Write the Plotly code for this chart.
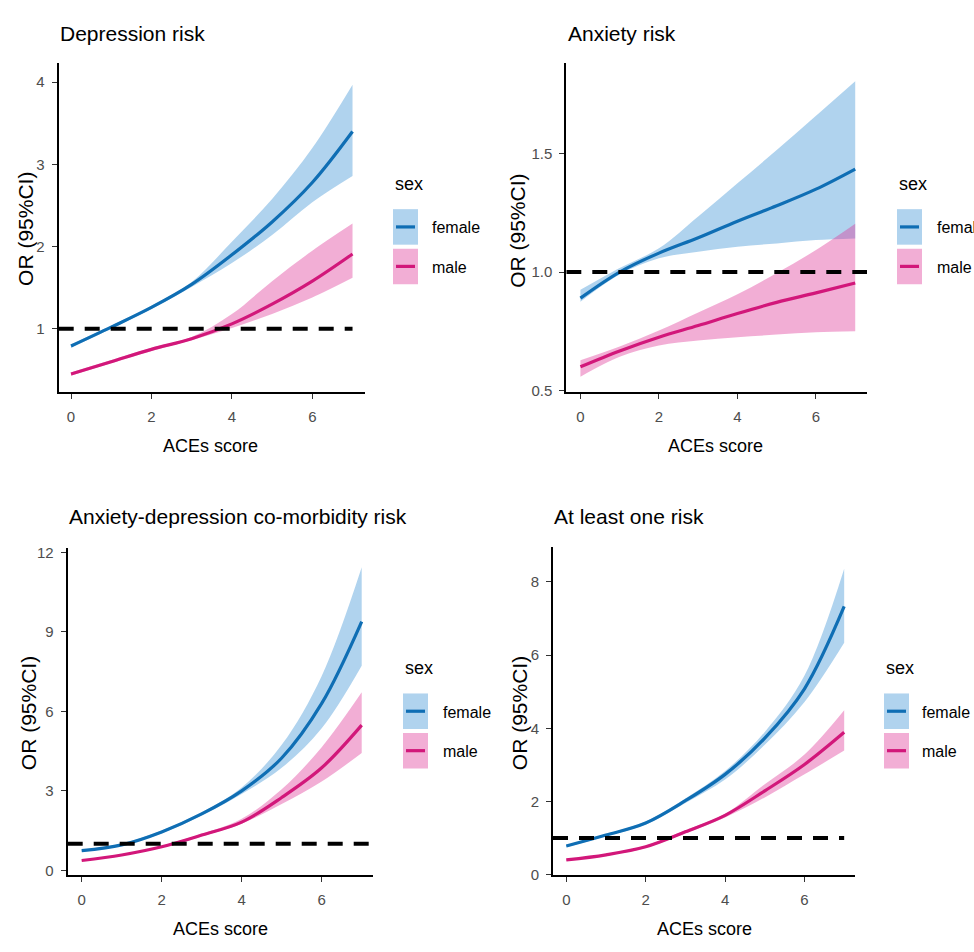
import plotly.graph_objects as go

W, H = 974, 952

# ---------------- data ----------------
aces = [0, 1, 2, 3, 4, 5, 6, 7]

# Depression risk
dep_female = [0.79, 1.02, 1.26, 1.54, 1.90, 2.30, 2.78, 3.40]
dep_female_lo = [0.77, 1.00, 1.24, 1.51, 1.80, 2.14, 2.54, 2.86]
dep_female_hi = [0.81, 1.04, 1.28, 1.57, 2.06, 2.58, 3.20, 3.97]
dep_male = [0.45, 0.60, 0.75, 0.88, 1.06, 1.30, 1.58, 1.91]
dep_male_lo = [0.43, 0.58, 0.73, 0.86, 1.01, 1.18, 1.38, 1.62]
dep_male_hi = [0.47, 0.62, 0.77, 0.90, 1.18, 1.58, 1.95, 2.28]

# Anxiety risk
anx_female = [0.89, 1.00, 1.08, 1.145, 1.215, 1.28, 1.35, 1.435]
anx_female_lo = [0.875, 0.99, 1.058, 1.086, 1.107, 1.121, 1.135, 1.142]
anx_female_hi = [0.925, 1.017, 1.10, 1.235, 1.375, 1.515, 1.66, 1.806]
anx_male = [0.60, 0.667, 0.725, 0.774, 0.825, 0.872, 0.912, 0.954]
anx_male_lo = [0.558, 0.642, 0.69, 0.711, 0.725, 0.736, 0.746, 0.75]
anx_male_hi = [0.628, 0.686, 0.753, 0.829, 0.906, 0.996, 1.093, 1.204]

# Anxiety-depression co-morbidity risk
com_female = [0.74, 0.96, 1.45, 2.13, 3.00, 4.24, 6.30, 9.39]
com_female_lo = [0.70, 0.92, 1.40, 2.07, 2.88, 3.87, 5.36, 7.72]
com_female_hi = [0.78, 1.00, 1.50, 2.19, 3.13, 4.74, 7.34, 11.44]
com_male = [0.37, 0.58, 0.89, 1.33, 1.82, 2.75, 3.87, 5.48]
com_male_lo = [0.34, 0.55, 0.85, 1.28, 1.76, 2.50, 3.35, 4.43]
com_male_hi = [0.40, 0.61, 0.93, 1.38, 1.95, 3.06, 4.65, 6.72]

# At least one risk
one_female = [0.78, 1.08, 1.41, 2.02, 2.74, 3.73, 5.08, 7.33]
one_female_lo = [0.75, 1.05, 1.37, 1.96, 2.60, 3.55, 4.72, 6.34]
one_female_hi = [0.81, 1.11, 1.45, 2.08, 2.83, 3.90, 5.44, 8.36]
one_male = [0.40, 0.54, 0.76, 1.17, 1.62, 2.29, 3.01, 3.89]
one_male_lo = [0.38, 0.52, 0.73, 1.13, 1.56, 2.11, 2.74, 3.39]
one_male_hi = [0.42, 0.56, 0.79, 1.21, 1.66, 2.47, 3.28, 4.49]

titles = ["Depression risk", "Anxiety risk",
          "Anxiety-depression co-morbidity risk", "At least one risk"]
x_ticks = [0, 2, 4, 6]
y_ticks = [[1, 2, 3, 4], [0.5, 1.0, 1.5], [0, 3, 6, 9, 12], [0, 2, 4, 6, 8]]
y_ticktext = [["1", "2", "3", "4"], ["0.5", "1.0", "1.5"],
              ["0", "3", "6", "9", "12"], ["0", "2", "4", "6", "8"]]
sexes = ["female", "male"]
ref_or = 1

# ---------------- styling ----------------
BLUE = "#0F6EB4"
PINK = "#D2177A"
BLUE_FILL = "rgba(57,145,212,0.40)"
PINK_FILL = "rgba(222,52,150,0.40)"
FONT = "Liberation Sans, Arial, sans-serif"

panels = [
    dict(data=(dep_female, dep_female_lo, dep_female_hi, dep_male, dep_male_lo, dep_male_hi),
         xpx=(58.7, 365), ypx=(58.3, 392.3), xr=(-0.306, 7.31), yr=(0.232, 4.24),
         hline_end=7.0,
         title=(58, 29), xtitle=(210, 447), ytitle=(26, 227),
         leg=(393, 181, 207, 247, 430)),
    dict(data=(anx_female, anx_female_lo, anx_female_hi, anx_male, anx_male_lo, anx_male_hi),
         xpx=(566.3, 867), ypx=(59, 392), xr=(-0.36, 7.3), yr=(0.495, 1.882),
         hline_end=7.3,
         title=(566, 29), xtitle=(715, 447), ytitle=(518, 229),
         leg=(897, 181, 207, 247, 935)),
    dict(data=(com_female, com_female_lo, com_female_hi, com_male, com_male_lo, com_male_hi),
         xpx=(67.7, 373.3), ypx=(551, 882), xr=(-0.35, 7.29), yr=(-0.175, 12.15),
         hline_end=7.29,
         title=(67, 519), xtitle=(220, 937), ytitle=(28, 718),
         leg=(403, 672, 698, 738, 441)),
    dict(data=(one_female, one_female_lo, one_female_hi, one_male, one_male_lo, one_male_hi),
         xpx=(553, 855.3), ypx=(549, 882), xr=(-0.335, 7.28), yr=(-0.01, 8.97),
         hline_end=7.0,
         title=(552, 519), xtitle=(704, 937), ytitle=(519, 718),
         leg=(884, 672, 698, 738, 920)),
]

fig = go.Figure()
shapes = []
annotations = []
layout = {}


def px(x):
    return x / W


def py(y):
    return 1 - y / H


for i, p in enumerate(panels):
    n = "" if i == 0 else str(i + 1)
    xa, ya = "x" + n, "y" + n
    f, flo, fhi, m, mlo, mhi = p["data"]
    for lo, hi, fill in ((flo, fhi, BLUE_FILL), (mlo, mhi, PINK_FILL)):
        fig.add_trace(go.Scatter(x=aces, y=lo, mode="lines", line=dict(width=0, shape="spline"),
                                 xaxis=xa, yaxis=ya, showlegend=False, hoverinfo="skip"))
        fig.add_trace(go.Scatter(x=aces, y=hi, mode="lines", line=dict(width=0, shape="spline"),
                                 fill="tonexty", fillcolor=fill,
                                 xaxis=xa, yaxis=ya, showlegend=False, hoverinfo="skip"))
    for vals, col, name in ((f, BLUE, sexes[0]), (m, PINK, sexes[1])):
        fig.add_trace(go.Scatter(x=aces, y=vals, mode="lines", name=name,
                                 line=dict(color=col, width=3.2, shape="spline"),
                                 xaxis=xa, yaxis=ya, showlegend=False))

    common_axis = dict(showline=True, linecolor="black", linewidth=2, showgrid=False,
                       zeroline=False, ticks="outside", ticklen=5, tickwidth=1.3,
                       tickcolor="#333333",
                       tickfont=dict(family=FONT, size=15, color="#4D4D4D"))
    layout["xaxis" + n] = dict(common_axis, domain=[px(p["xpx"][0]), px(p["xpx"][1])],
                               range=list(p["xr"]), tickvals=x_ticks, anchor=ya,
                               ticklabelstandoff=5)
    layout["yaxis" + n] = dict(common_axis, domain=[py(p["ypx"][1]), py(p["ypx"][0])],
                               range=list(p["yr"]), tickvals=y_ticks[i],
                               ticktext=y_ticktext[i], anchor=xa, ticklabelstandoff=4)

    # reference line OR = 1
    shapes.append(dict(type="line", xref=xa, yref=ya, x0=p["xr"][0], x1=p["hline_end"],
                       y0=ref_or, y1=ref_or,
                       line=dict(color="black", width=4, dash="15px,11px")))

    # texts
    tx, ty = p["title"]
    annotations.append(dict(text=titles[i], x=px(tx), y=py(ty), xref="paper", yref="paper",
                            xanchor="left", yanchor="middle", showarrow=False,
                            font=dict(family=FONT, size=21, color="black")))
    ax, ay = p["xtitle"]
    annotations.append(dict(text="ACEs score", x=px(ax), y=py(ay), xref="paper", yref="paper",
                            xanchor="center", yanchor="middle", showarrow=False,
                            font=dict(family=FONT, size=18, color="black")))
    yx, yy = p["ytitle"]
    annotations.append(dict(text="OR (95%CI)", x=px(yx), y=py(yy), xref="paper", yref="paper",
                            xanchor="center", yanchor="middle", showarrow=False, textangle=-90,
                            font=dict(family=FONT, size=21, color="black")))

    # legend
    lx, lty, fy, my, labx = p["leg"]
    annotations.append(dict(text="sex", x=px(lx), y=py(lty), xref="paper", yref="paper",
                            xanchor="left", yanchor="middle", showarrow=False,
                            font=dict(family=FONT, size=18, color="black")))
    for ky, fill, col, lab in ((fy, BLUE_FILL, BLUE, sexes[0]), (my, PINK_FILL, PINK, sexes[1])):
        shapes.append(dict(type="rect", xref="paper", yref="paper",
                           x0=px(lx), x1=px(lx + 25), y0=py(ky + 36), y1=py(ky),
                           fillcolor=fill, line=dict(width=0)))
        shapes.append(dict(type="line", xref="paper", yref="paper",
                           x0=px(lx + 3), x1=px(lx + 22), y0=py(ky + 18), y1=py(ky + 18),
                           line=dict(color=col, width=3.2)))
        annotations.append(dict(text=lab, x=px(labx), y=py(ky + 19), xref="paper", yref="paper",
                                xanchor="left", yanchor="middle", showarrow=False,
                                font=dict(family=FONT, size=16, color="black")))

fig.update_layout(width=W, height=H, margin=dict(l=0, r=0, t=0, b=0),
                  paper_bgcolor="white", plot_bgcolor="white", showlegend=False,
                  shapes=shapes, annotations=annotations, **layout)

fig.write_html("out.html", config={"displayModeBar": False},
               post_script="document.body.style.margin='0';document.body.style.padding='0';")
